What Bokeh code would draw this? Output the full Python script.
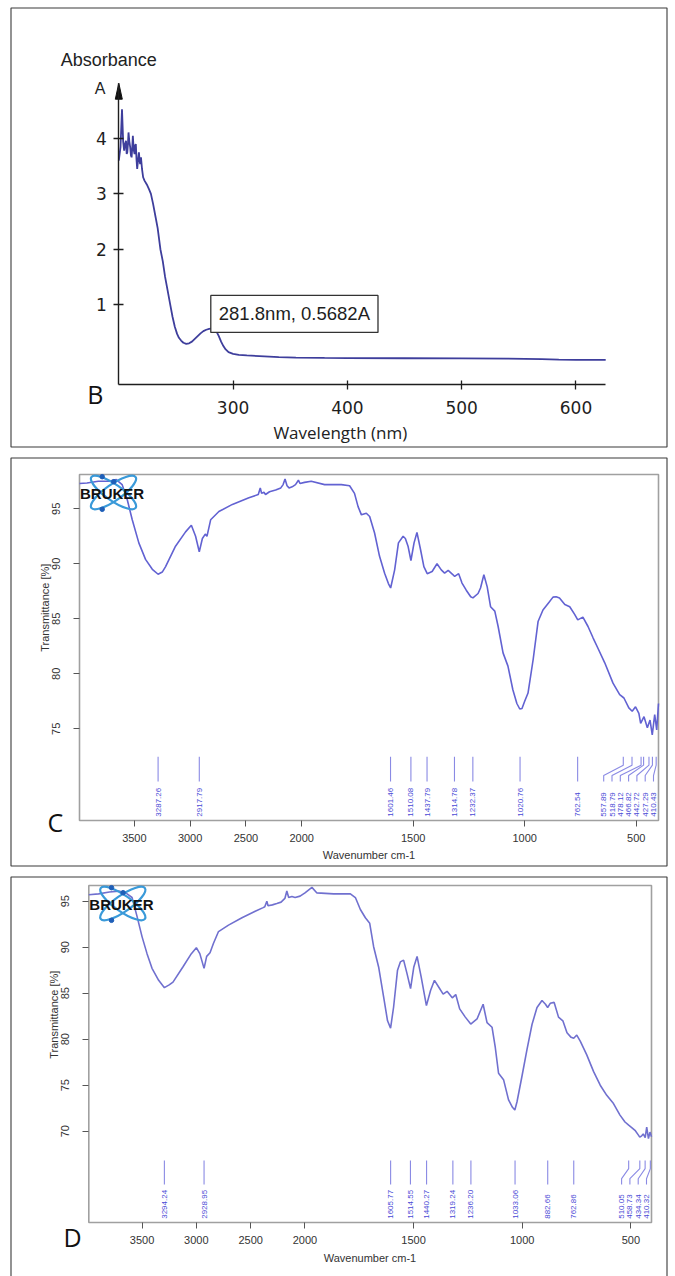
import math
from bokeh.plotting import figure
from bokeh.models import Range1d, FixedTicker, CustomJSTickFormatter, Label
from bokeh.layouts import column
from bokeh.embed import file_html
from bokeh.resources import INLINE
from bokeh.core.properties import value

# ---------------- Panel B : UV-Vis absorbance ----------------
uv_wavelength = [200.0, 201.5, 202.8, 203.8, 204.7, 205.5, 206.3, 206.9, 207.4, 208.0, 208.5, 209.2,
                 210.0, 210.6, 211.2, 211.8, 212.3, 213.0, 213.8, 214.4, 214.9, 215.5, 216.1, 216.8,
                 217.6, 218.2, 218.7, 219.4, 220.3, 221.3, 222.5, 224.5, 226.5, 228.1, 230.0, 232.0,
                 234.0, 236.4, 238.5, 240.5, 242.5, 245.0, 247.0, 249.0, 251.0, 252.6, 254.5, 256.5,
                 259.0, 261.5, 264.0, 266.5, 269.0, 271.5, 274.0, 276.5, 279.0, 281.8, 283.5, 285.5,
                 287.5, 289.5, 291.5, 293.5, 296.0, 300.0, 305.0, 312.0, 323.0, 340.0, 355.0, 380.0,
                 400.0, 450.0, 500.0, 540.0, 570.0, 585.0, 600.0, 626.0]
uv_absorbance = [3.60, 3.85, 4.53, 3.95, 3.78, 3.90, 3.96, 3.72, 3.75, 3.90, 4.11, 3.95,
                 3.84, 3.70, 3.66, 3.85, 4.05, 3.80, 3.72, 3.88, 3.90, 3.62, 3.45, 3.60,
                 3.75, 3.60, 3.54, 3.66, 3.45, 3.30, 3.24, 3.17, 3.08, 3.00, 2.82, 2.60,
                 2.38, 2.00, 1.78, 1.50, 1.28, 1.00, 0.78, 0.60, 0.47, 0.40, 0.35, 0.31,
                 0.29, 0.30, 0.33, 0.38, 0.43, 0.48, 0.52, 0.545, 0.56, 0.568, 0.555, 0.51,
                 0.43, 0.33, 0.25, 0.19, 0.14, 0.11, 0.09, 0.08, 0.07, 0.05, 0.04, 0.035,
                 0.033, 0.03, 0.027, 0.022, 0.015, 0.005, 0.002, 0.0]
uv_xticks = [300, 400, 500, 600]
uv_yticks = [1, 2, 3, 4]
uv_x_limits = (200, 626)
uv_y_limits = (-0.45, 5.0)
uv_peak_nm = 281.8
uv_peak_abs = 0.5682
uv_peak_text = "281.8nm, 0.5682A"

# ---------------- Panel C : FTIR ----------------
c_wavenumber = [3992, 3925, 3824, 3729, 3662, 3610, 3563, 3519, 3460, 3400, 3339, 3287, 3250, 3220,
                3131, 3041, 2989, 2951, 2918, 2890, 2864, 2849, 2816, 2742, 2621, 2473, 2389, 2371,
                2359, 2338, 2324, 2288, 2233, 2187, 2166, 2149, 2131, 2113, 2085, 2055, 2029, 2015,
                1987, 1957, 1897, 1822, 1785, 1763, 1747, 1732, 1710, 1695, 1673, 1651, 1628, 1611,
                1601, 1583, 1566, 1545, 1535, 1523, 1510, 1496, 1483, 1467, 1452, 1437, 1415, 1393,
                1374, 1359, 1343, 1321, 1314, 1296, 1281, 1262, 1242, 1232, 1209, 1198, 1183, 1168,
                1153, 1134, 1119, 1097, 1075, 1053, 1035, 1022, 1012, 1000, 985, 962, 940, 918,
                895, 873, 859, 844, 820, 798, 776, 762, 739, 716, 693, 671, 641, 604,
                574, 555, 533, 518, 503, 488, 480, 465, 450, 438, 428, 417, 408, 400]
c_transmittance = [97.3, 97.35, 97.5, 97.5, 97.65, 97.2, 95.8, 94.0, 91.9, 90.4, 89.5, 89.05, 89.25, 89.75,
                   91.6, 92.9, 93.5, 92.5, 91.1, 92.3, 92.7, 92.5, 94.0, 94.75, 95.4, 96.0, 96.3, 96.9,
                   96.4, 96.5, 96.3, 96.55, 96.7, 96.9, 97.2, 97.7, 97.1, 96.9, 97.0, 97.2, 97.6, 97.3,
                   97.4, 97.5, 97.2, 97.2, 97.1, 96.4, 95.2, 94.45, 94.6, 94.3, 92.8, 90.7, 89.15, 88.2,
                   87.8, 89.45, 91.9, 92.5, 92.3, 91.6, 90.3, 91.9, 92.85, 91.3, 89.75, 89.1, 89.3, 90.0,
                   89.45, 89.15, 89.4, 89.0, 88.85, 89.1, 88.25, 87.6, 87.0, 86.9, 87.3, 87.8, 89.0, 87.9,
                   86.1, 85.7, 84.3, 81.9, 80.7, 78.55, 77.3, 76.8, 76.85, 77.5, 78.25, 81.3, 84.75, 85.8,
                   86.4, 86.97, 87.0, 86.9, 86.3, 86.1, 85.4, 84.9, 85.15, 84.3, 83.25, 82.3, 81.0, 79.15,
                   78.1, 77.8, 76.9, 76.6, 77.0, 76.4, 75.5, 76.1, 75.1, 75.8, 74.45, 76.3, 74.9, 77.3]
c_peaks = [3287.26, 2917.79, 1601.46, 1510.08, 1437.79, 1314.78, 1232.37, 1020.76, 762.54,
           557.89, 518.79, 478.12, 466.82, 442.72, 427.29, 410.43]
c_yticks = [75, 80, 85, 90, 95]

# ---------------- Panel D : FTIR ----------------
d_wavenumber = [3990, 3900, 3800, 3714, 3650, 3592, 3546, 3500, 3454, 3408, 3347, 3294, 3250, 3215,
                3124, 3046, 3000, 2968, 2929, 2905, 2874, 2843, 2796, 2704, 2580, 2458, 2385, 2370,
                2351, 2340, 2300, 2259, 2220, 2185, 2167, 2150, 2120, 2091, 2045, 2000, 1968, 1945,
                1868, 1791, 1768, 1745, 1722, 1702, 1684, 1661, 1638, 1620, 1606, 1592, 1574, 1561,
                1546, 1530, 1514, 1499, 1484, 1465, 1441, 1422, 1404, 1384, 1364, 1346, 1322, 1306,
                1288, 1262, 1237, 1208, 1180, 1162, 1139, 1124, 1109, 1086, 1063, 1045, 1034, 1024,
                1001, 978, 955, 932, 909, 893, 883, 871, 853, 833, 813, 794, 775, 763,
                749, 733, 703, 672, 641, 611, 580, 550, 527, 510, 496, 481, 466, 459,
                450, 443, 434, 427, 419, 412, 405]
d_transmittance = [95.7, 95.8, 96.0, 96.1, 95.9, 95.4, 93.35, 91.15, 89.3, 87.7, 86.4, 85.6, 85.9, 86.2,
                   87.85, 89.3, 89.95, 89.3, 87.7, 89.0, 89.4, 90.4, 91.7, 92.4, 93.2, 93.9, 94.3, 94.4,
                   95.0, 94.5, 94.6, 94.75, 94.9, 95.3, 96.1, 95.4, 95.5, 95.4, 95.55, 95.9, 96.5, 95.9,
                   95.8, 95.8, 95.4, 94.1, 93.2, 92.6, 90.05, 87.85, 84.6, 82.0, 81.2, 83.5, 87.5, 88.4,
                   88.6, 87.1, 85.5, 87.85, 89.0, 86.75, 83.65, 85.3, 86.4, 85.65, 84.9, 85.2, 84.5, 84.85,
                   83.3, 82.4, 81.65, 82.2, 83.8, 81.8, 81.3, 79.1, 76.3, 75.6, 73.4, 72.6, 72.3, 73.2,
                   76.0, 78.9, 81.6, 83.45, 84.2, 83.8, 83.45, 83.9, 84.0, 82.4, 82.0, 80.7, 80.2, 80.1,
                   80.45, 79.8, 78.3, 76.5, 75.0, 73.9, 73.0, 71.75, 71.0, 70.65, 70.4, 70.1, 69.6, 69.35,
                   69.5, 69.7, 69.3, 70.45, 69.2, 69.9, 69.4]
d_peaks = [3294.24, 2928.95, 1605.77, 1514.55, 1440.27, 1319.24, 1236.20, 1033.06, 882.66,
           762.86, 510.05, 458.73, 434.34, 410.32]
d_yticks = [70, 75, 80, 85, 90, 95]

ir_xticks = [3500, 3000, 2500, 2000, 1500, 1000, 500]

WIDTH = 675


def ir_u(w):
    """OPUS style wavenumber axis: the region above 2000 cm-1 is drawn at half scale."""
    return w if w <= 2000 else 2000 + (w - 2000) / 2.0


class PixelMap:
    """Linear map between canvas pixels and data values (two anchors per axis)."""
    def __init__(self, xa, xb, ya, yb):
        (self.pxa, self.xa), (self.pxb, self.xb) = xa, xb
        (self.pya, self.ya), (self.pyb, self.yb) = ya, yb

    def x(self, px):
        return self.xa + (px - self.pxa) * (self.xb - self.xa) / (self.pxb - self.pxa)

    def y(self, py):
        return self.ya + (py - self.pya) * (self.yb - self.ya) / (self.pyb - self.pya)

    def px(self, x):
        return self.pxa + (x - self.xa) * (self.pxb - self.pxa) / (self.xb - self.xa)


def make_fig(height, m):
    p = figure(width=WIDTH, height=height, x_range=Range1d(m.x(0), m.x(WIDTH)),
               y_range=Range1d(m.y(height), m.y(0)), min_border=0,
               output_backend="svg", toolbar_location=None)
    p.grid.visible = False
    p.outline_line_color = None
    p.background_fill_color = "white"
    p.border_fill_color = "white"
    return p


def add_label(p, x, y, text, size, font="Liberation Sans", color="#222222", align="center",
              baseline="middle", angle=0.0, style="normal"):
    p.add_layout(Label(x=x, y=y, text=text, text_font=font, text_font_size=size,
                       text_color=color, text_align=align, text_baseline=baseline,
                       angle=angle, text_font_style=style))


def panel_border(p, m, left, right, top, bottom):
    p.quad(left=[m.x(left)], right=[m.x(right)], top=[m.y(top)], bottom=[m.y(bottom)],
           fill_color=None, line_color="#3a3a3a", line_width=1.1)


# ======================= Panel B =======================
B_H = 452
mB = PixelMap((118.3, 200), (605.2, 626), (82.7, 5.0), (359.4, 0.0))
pB = make_fig(B_H, mB)
panel_border(pB, mB, 10.5, 666.5, 7.5, 446.5)

pB.xaxis.ticker = FixedTicker(ticks=uv_xticks)
pB.xaxis.fixed_location = uv_y_limits[0]
pB.xaxis.bounds = uv_x_limits
pB.yaxis.ticker = FixedTicker(ticks=uv_yticks)
pB.yaxis.fixed_location = uv_x_limits[0]
pB.yaxis.bounds = uv_y_limits
for ax in (pB.xaxis[0], pB.yaxis[0]):
    ax.axis_line_color = "#1e1e1e"
    ax.axis_line_width = 1.4
    ax.major_tick_line_color = "#1e1e1e"
    ax.major_tick_line_width = 1.3
    ax.minor_tick_line_color = None
    ax.major_label_text_font = "DejaVu Sans"
    ax.major_label_text_font_size = "17px"
    ax.major_label_text_color = "#1e1e1e"
pB.xaxis.major_tick_in = 4
pB.xaxis.major_tick_out = 5
pB.xaxis.major_label_standoff = 11
pB.yaxis.major_tick_in = 5
pB.yaxis.major_tick_out = 5
pB.yaxis.major_label_standoff = 7

pB.line(uv_wavelength, uv_absorbance, line_color="#3e3e9c", line_width=1.8)

# arrow head on top of the absorbance axis
x_tip, y_tip = uv_x_limits[0], uv_y_limits[1]
hw = mB.x(118.3 + 3.5) - mB.x(118.3)
hh = mB.y(82.7) - mB.y(82.7 + 16)
pB.patch([x_tip - hw, x_tip, x_tip + hw], [y_tip - hh, y_tip, y_tip - hh],
         fill_color="#111111", line_color="#111111", line_width=1)

add_label(pB, mB.x(60.2), mB.y(59.3), "Absorbance", "18px", align="left", baseline="alphabetic")
add_label(pB, mB.x(99.6), mB.y(88.3), "A", "16px", baseline="alphabetic")
add_label(pB, mB.x(94.7), mB.y(393.3), "B", "25px", font="Open Sans", color="#111111",
          baseline="alphabetic")
add_label(pB, mB.x(339.8), mB.y(432), "Wavelength (nm)", "17px", font="Open Sans",
          baseline="alphabetic")

pB.add_layout(Label(x=uv_peak_nm, y=uv_peak_abs, text=uv_peak_text, text_font="Liberation Sans",
                    text_font_size="18.5px", text_color="#1e1e1e", text_align="left",
                    text_baseline="bottom", x_offset=-1.5, y_offset=-4, padding=8,
                    border_line_color="#333333", border_line_width=1.3,
                    background_fill_color="white"))


# ======================= Panels C and D =======================
def ir_panel(height, m, box, border, wn, tr, peaks, yticks, line_color, letter, letter_pos,
             ylab_pos, tick_standoff, xlab_standoff, ytick_standoff):
    p = make_fig(height, m)
    bl, br, bt, bb = box
    u_left, u_right = m.x(bl), m.x(br)
    y_hi, y_lo = m.y(bt), m.y(bb)
    panel_border(p, m, *border)

    # plot box
    p.quad(left=[u_left], right=[u_right], top=[y_hi], bottom=[y_lo], fill_color=None,
           line_color="#a0a0a0", line_width=1.6)

    p.xaxis.ticker = FixedTicker(ticks=[ir_u(t) for t in ir_xticks])
    p.xaxis.formatter = CustomJSTickFormatter(
        code="const w = tick > 2000 ? 2000 + 2*(tick - 2000) : tick; return Math.round(w).toString();")
    p.xaxis.fixed_location = y_lo
    p.xaxis.bounds = (u_right, u_left)
    p.yaxis.ticker = FixedTicker(ticks=yticks)
    p.yaxis.fixed_location = u_left
    p.yaxis.bounds = (y_lo, y_hi)
    p.yaxis.major_label_orientation = "vertical"
    for ax in (p.xaxis[0], p.yaxis[0]):
        ax.axis_line_color = None
        ax.major_tick_in = 0
        ax.major_tick_out = 6
        ax.major_tick_line_color = "#555555"
        ax.minor_tick_line_color = None
        ax.major_label_text_font = "Liberation Sans"
        ax.major_label_text_font_size = "11px"
        ax.major_label_text_color = "#333333"
    p.xaxis.major_label_standoff = tick_standoff
    p.yaxis.major_label_standoff = ytick_standoff
    p.xaxis.axis_label = "Wavenumber cm-1"
    p.xaxis.axis_label_text_font = "Liberation Sans"
    p.xaxis.axis_label_text_font_size = "11px"
    p.xaxis.axis_label_text_font_style = "normal"
    p.xaxis.axis_label_text_color = "#333333"
    p.xaxis.axis_label_standoff = xlab_standoff

    p.line([ir_u(w) for w in wn], tr, line_color=line_color, line_width=1.6)

    # peak markers with labels spread apart where crowded
    pk_px = [m.px(ir_u(w)) for w in peaks]
    lab_px = list(pk_px)
    lab_px[-1] = min(pk_px[-1], br - 5)
    for i in range(len(pk_px) - 2, -1, -1):
        lab_px[i] = min(pk_px[i], lab_px[i + 1] - 8.3)
    lab_u = [m.x(q) for q in lab_px]
    span = y_hi - y_lo
    yl = [y_lo + f * span for f in (0.184, 0.16, 0.13, 0.113)]
    xs = [[ir_u(w), ir_u(w), lu, lu] for w, lu in zip(peaks, lab_u)]
    p.multi_line(xs, [yl] * len(peaks), line_color="#8a8ae4", line_width=1.1)
    p.text(x=lab_u, y=[y_lo + 0.011 * span] * len(peaks), text=[f"{w:.2f}" for w in peaks],
           angle=math.pi / 2, text_align="left", text_baseline="middle",
           text_font=value("Liberation Sans"), text_font_size="8px", text_color="#4a4ad6")

    # BRUKER logo
    ex, ey = m.x(bl + 34), m.y(bt + 18)
    p.ellipse(x=[ex, ex], y=[ey, ey], width=54, height=16, angle=[0.61, -0.61],
              width_units="screen", height_units="screen", fill_color=None,
              line_color="#3a9ad9", line_width=2.2)
    p.scatter(x=[m.x(bl + 22.7), m.x(bl + 34.3), m.x(bl + 22.7)],
              y=[m.y(bt + 2.2), m.y(bt + 7.2), m.y(bt + 34.8)],
              size=4.5, color="#1f5fb8")
    add_label(p, m.x(bl + 0.5), m.y(bt + 19), "BRUKER", "15px", color="#111111",
              align="left", style="bold")

    add_label(p, m.x(ylab_pos[0]), m.y(ylab_pos[1]), "Transmittance [%]", "11px",
              color="#333333", angle=math.pi / 2)
    add_label(p, m.x(letter_pos[0]), m.y(letter_pos[1]), letter, "25px", font="Open Sans",
              color="#111111", baseline="alphabetic")
    return p


C_H = 419
mC = PixelMap((79, 2996), (658, 400), (56.3, 95), (111.3, 90))
pC = ir_panel(C_H, mC, (79, 658, 22, 368), (10.5, 666.5, 5.5, 413.5),
              c_wavenumber, c_transmittance, c_peaks, c_yticks, "#6262d2",
              "C", (54.8, 369.7), (44.2, 155.2), 7, 4, 13)

D_H = 405
mD = PixelMap((88.3, 2995), (651, 405), (29.7, 95), (75.7, 90))
pD = ir_panel(D_H, mD, (88.3, 651, 14, 351), (10.5, 666.5, 5.5, 420),
              d_wavenumber, d_transmittance, d_peaks, d_yticks, "#7070cf",
              "D", (72, 365.7), (53.8, 143.2), 7, 5, 14)

layout = column(pB, pC, pD, spacing=0)
open("out.html", "w").write(file_html(layout, INLINE))
